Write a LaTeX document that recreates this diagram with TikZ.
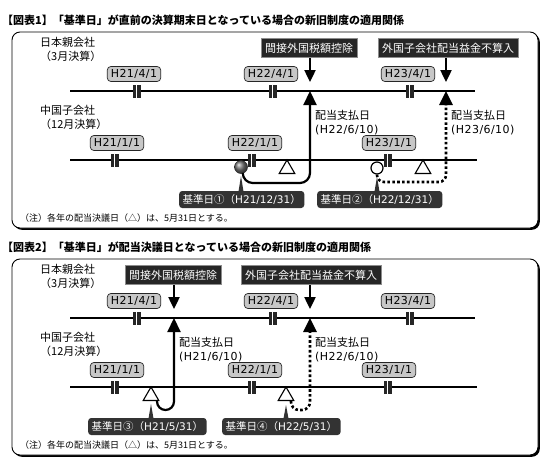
\documentclass[tikz,border=0pt]{standalone}
\usepackage{fontspec}
\setmainfont{Noto Sans CJK JP}
\newfontfamily\lat{DejaVu Sans}[LetterSpace=4]
\newfontfamily\latn{DejaVu Sans}
\usetikzlibrary{arrows.meta,shapes.geometric}
\begin{document}
\begin{tikzpicture}[x=1pt,y=-1pt,
  ttl/.style={font=\fontsize{11}{13}\selectfont\bfseries, anchor=west, inner sep=0},
  txt/.style={font=\fontsize{11}{14.5}\selectfont, anchor=north west, inner sep=0, align=left},
  note/.style={font=\fontsize{9}{10}\selectfont, anchor=west, inner sep=0},
  datelbl/.style={draw=black!85, fill=black!22, rounded corners=3.5pt, inner xsep=3.5pt, inner ysep=0pt, minimum height=15pt, line width=0.7pt, font=\fontsize{11}{12}\selectfont\lat},
  callout/.style={draw=black!45, fill=black!85, text=white, line width=1pt, inner xsep=4pt, inner ysep=0pt, minimum height=19pt, font=\fontsize{11}{12}\selectfont},
  kijun/.style={fill=black!80, text=white, rounded corners=3pt, inner xsep=3.5pt, inner ysep=0pt, minimum height=17pt, anchor=west, font=\fontsize{10.5}{12}\selectfont},
  bar/.style={minimum width=8pt, minimum height=13pt, inner sep=0pt, fill=black!85,
    path picture={\draw[white, line width=0.9pt] ([xshift=-1pt]path picture bounding box.north) -- ([xshift=-1pt]path picture bounding box.south);}},
  tline/.style={line width=1.3pt},
  ball/.style={circle, minimum size=13pt, inner sep=0pt, ball color=black!55, draw=black!85, line width=0.5pt},
  ring/.style={circle, minimum size=12pt, inner sep=0pt, draw=black, fill=white, line width=1.2pt},
  tri/.style={regular polygon, regular polygon sides=3, minimum size=18pt, inner sep=0pt, draw=black, fill=white, line width=1.1pt},
  downarr/.style={line width=2.4pt, -{Triangle[width=11pt,length=12pt]}},
  uparr/.style={line width=2.2pt, -{Triangle[width=13pt,length=14pt]}},
  dotarr/.style={line width=2.6pt, dash pattern=on 2.6pt off 2.3pt, -{Triangle[width=13pt,length=14pt]}},
  tailfill/.style={fill=black!80},
  frameshadow/.style={fill=black, rounded corners=8pt},
  frame/.style={draw=black, fill=white, rounded corners=8pt, line width=0.9pt}
]
\useasboundingbox (0,0) rectangle (550,464);

% ================= Figure 1 =================
\node[ttl] (t1) at (2,20) {【図表1】「基準日」が直前の決算期末日となっている場合の新旧制度の適用関係};
\fill[frameshadow] (13.8,33.8) rectangle (539.8,229.8);
\draw[frame] (12,32) rectangle (538,228);

\node[txt] (jp1) at (40,37) {日本親会社\\（3月決算）};
\node[txt] (cn1) at (40,105) {中国子会社\\（12月決算）};

% parent line
\coordinate (pls1) at (70,91); \coordinate (ple1) at (475,91);
\draw[tline] (pls1) -- (ple1);
\node[bar] (pbA1) at (137,91) {};
\node[bar] (pbB1) at (273,91) {};
\node[bar] (pbC1) at (410,91) {};
\node[datelbl] (plA1) at (134,74) {H21/4/1};
\node[datelbl] (plB1) at (271,74) {H22/4/1};
\node[datelbl] (plC1) at (408,74) {H23/4/1};

% child line
\coordinate (cls1) at (70,160); \coordinate (cle1) at (477,160);
\draw[tline] (cls1) -- (cle1);
\node[bar] (cbA1) at (115,160) {};
\node[bar] (cbB1) at (252,160) {};
\node[bar] (cbC1) at (388,160) {};
\node[datelbl] (clA1) at (117,143) {H21/1/1};
\node[datelbl] (clB1) at (255,143) {H22/1/1};
\node[datelbl] (clC1) at (389,143) {H23/1/1};

% callouts and down arrows
\coordinate (dl) at (0,82);
\node[callout] (cA1) at (309,48) {間接外国税額控除};
\node[callout] (cB1) at (448,48) {外国子会社配当益金不算入};
\draw[downarr] (cA1.south -| 310,0) -- (310,82);
\draw[downarr] (cB1.south -| 446,0) -- (446,82);

% markers
\node[tri] (trA1) at (287,169) {};
\node[tri] (trB1) at (423,169) {};
\node[ball] (ball1) at (241,167) {};
\node[ring] (ring1) at (377,168) {};

% payment paths
\coordinate (uA1) at (310,91); \coordinate (kA1) at (310,183);
\coordinate (uB1) at (446,91); \coordinate (kB1) at (446,182);
\draw[uparr, rounded corners=10pt] (ball1.-75) |- (kA1) -- (uA1);
\draw[dotarr, rounded corners=7pt] (ring1.south) |- (kB1) -- (uB1);
\node[txt] (payA1) at (315,110) {配当支払日\\{\lat(H22/6/10)}};
\node[txt] (payB1) at (451,110) {配当支払日\\{\lat(H23/6/10)}};

% reference-date labels
\node[kijun] (kjA1) at (179,199.5) {基準日①（{\latn H21/12/31}）};
\node[kijun] (kjB1) at (317,199.5) {基準日②（{\latn H22/12/31}）};
\fill[tailfill] (238.5,191.5) -- (241,176) -- (243.5,191.5) -- cycle;
\fill[tailfill] (374.5,191.5) -- (377,177) -- (379.5,191.5) -- cycle;

\node[note] (n1) at (20,218) {（注）各年の配当決議日（△）は、5月31日とする。};

% ================= Figure 2 =================
\begin{scope}[shift={(0,227)}]
\node[ttl] (t2) at (2,20) {【図表2】「基準日」が配当決議日となっている場合の新旧制度の適用関係};
\fill[frameshadow] (13.8,33.8) rectangle (539.8,229.8);
\draw[frame] (12,32) rectangle (538,228);

\node[txt] (jp2) at (40,37) {日本親会社\\（3月決算）};
\node[txt] (cn2) at (40,105) {中国子会社\\（12月決算）};

\coordinate (pls2) at (70,91); \coordinate (ple2) at (475,91);
\draw[tline] (pls2) -- (ple2);
\node[bar] (pbA2) at (137,91) {};
\node[bar] (pbB2) at (273,91) {};
\node[bar] (pbC2) at (410,91) {};
\node[datelbl] (plA2) at (134,74) {H21/4/1};
\node[datelbl] (plB2) at (271,74) {H22/4/1};
\node[datelbl] (plC2) at (408,74) {H23/4/1};

\coordinate (cls2) at (70,160); \coordinate (cle2) at (477,160);
\draw[tline] (cls2) -- (cle2);
\node[bar] (cbA2) at (115,160) {};
\node[bar] (cbB2) at (252,160) {};
\node[bar] (cbC2) at (388,160) {};
\node[datelbl] (clA2) at (117,143) {H21/1/1};
\node[datelbl] (clB2) at (255,143) {H22/1/1};
\node[datelbl] (clC2) at (389,143) {H23/1/1};

\node[callout] (cA2) at (173,48) {間接外国税額控除};
\node[callout] (cB2) at (311,48) {外国子会社配当益金不算入};
\draw[downarr] (cA2.south -| 174,0) -- (174,82);
\draw[downarr] (cB2.south -| 310,0) -- (310,82);

\node[tri] (trA2) at (151,169) {};
\node[tri] (trB2) at (286,169) {};

\coordinate (uA2) at (174,91); \coordinate (kA2) at (174,183);
\coordinate (uB2) at (310,91); \coordinate (kB2) at (310,183);
\coordinate (sA2) at (157,174); \coordinate (sB2) at (291,174);
\draw[uparr, rounded corners=8.5pt] (sA2) |- (kA2) -- (uA2);
\draw[dotarr, rounded corners=8pt] (sB2) |- (kB2) -- (uB2);
\node[txt] (payA2) at (179,110) {配当支払日\\{\lat(H21/6/10)}};
\node[txt] (payB2) at (315,110) {配当支払日\\{\lat(H22/6/10)}};

\node[kijun] (kjA2) at (88,199.5) {基準日③（{\latn H21/5/31}）};
\node[kijun] (kjB2) at (222,199.5) {基準日④（{\latn H22/5/31}）};
\fill[tailfill] (148.5,191.5) -- (151,177) -- (153.5,191.5) -- cycle;
\fill[tailfill] (283.5,191.5) -- (286,178) -- (288.5,191.5) -- cycle;

\node[note] (n2) at (20,218) {（注）各年の配当決議日（△）は、5月31日とする。};
\end{scope}
\end{tikzpicture}
\end{document}
